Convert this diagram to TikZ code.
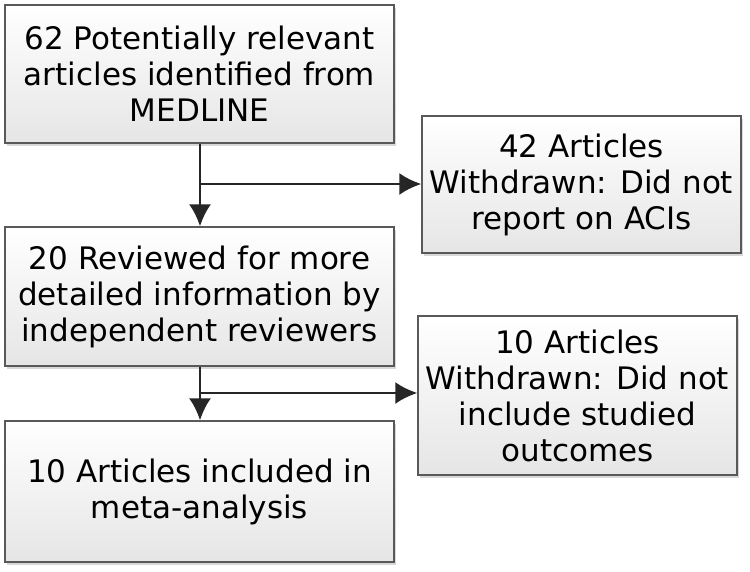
\documentclass[tikz,border=0pt]{standalone}
\usepackage{fontspec}
\setmainfont{DejaVu Sans}
\usetikzlibrary{shadows,arrows.meta}
\begin{document}
\begin{tikzpicture}[x=1pt,y=-1pt,
  box/.style={draw=black!65, line width=1.3pt, top color=white, bottom color=black!10,
    drop shadow={shadow xshift=2pt, shadow yshift=-3pt, fill=black!25, opacity=0.6},
    align=center, font=\fontsize{31}{36}\selectfont, inner sep=0pt},
  arr/.style={draw=black!85, line width=2.6pt, -{Latex[length=22pt,width=22pt]}}]
\useasboundingbox (0,0) rectangle (750,571);
\fill[white] (0,0) rectangle (750,571);
\node[box, minimum width=389pt, minimum height=138pt] (a) at (199.5,74) {62 Potentially relevant\\articles identified from\\MEDLINE};
\node[box, minimum width=319pt, minimum height=137pt] (b) at (581.5,184.5) {42 Articles\\Withdrawn: Did not\\report on ACIs};
\node[box, minimum width=389pt, minimum height=139pt] (c) at (199.5,296.5) {20 Reviewed for more\\detailed information by\\independent reviewers};
\node[box, minimum width=319pt, minimum height=159pt] (d) at (577.5,395.5) {10 Articles\\Withdrawn: Did not\\include studied\\outcomes};
\node[box, minimum width=389pt, minimum height=141pt] (e) at (199.5,491.5) {10 Articles included in\\meta-analysis};
\coordinate (j1) at (200,184);
\coordinate (j2) at (200,393);
\draw[arr] (a.south -| j1) -- (c.north -| j1);
\draw[arr] (j1) -- (j1 -| b.west);
\draw[arr] (c.south -| j2) -- (e.north -| j2);
\draw[arr] (j2) -- (j2 -| d.west);
\end{tikzpicture}
\end{document}
